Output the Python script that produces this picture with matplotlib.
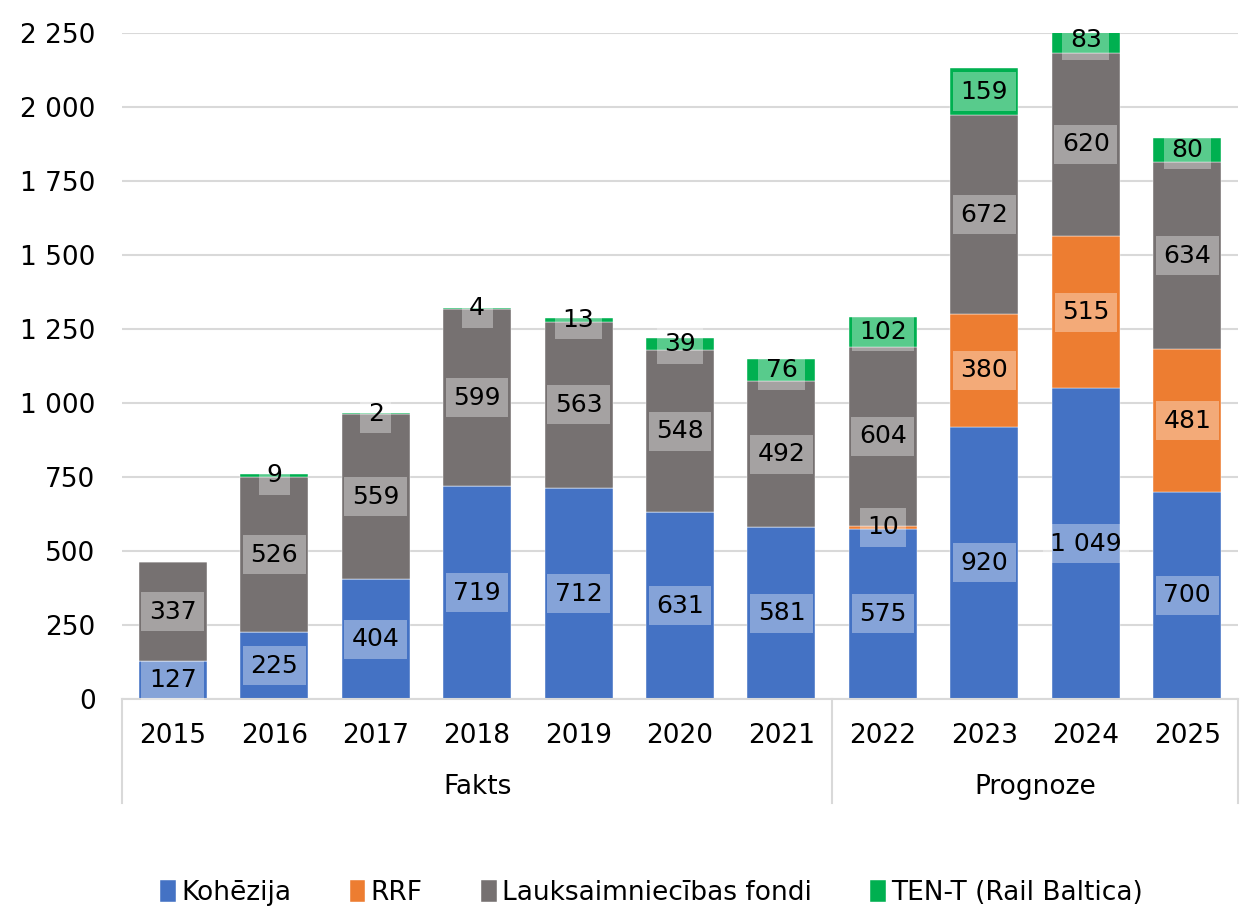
import matplotlib.pyplot as plt
from matplotlib.ticker import FuncFormatter

years = ['2015', '2016', '2017', '2018', '2019', '2020', '2021',
         '2022', '2023', '2024', '2025']
kohezija = [127, 225, 404, 719, 712, 631, 581, 575, 920, 1049, 700]
rrf = [0, 0, 0, 0, 0, 0, 0, 10, 380, 515, 481]
lauks = [337, 526, 559, 599, 563, 548, 492, 604, 672, 620, 634]
tent = [0, 9, 2, 4, 13, 39, 76, 102, 159, 83, 80]

series_names = ['Kohēzija', 'RRF', 'Lauksaimniecības fondi', 'TEN-T (Rail Baltica)']
colors = ['#4472C4', '#ED7D31', '#767171', '#00B050']
groups = [('Fakts', 0, 6), ('Prognoze', 7, 10)]


def fmt_thousands(v, pos=None):
    return '{:,.0f}'.format(v).replace(',', ' ')


fig = plt.figure(figsize=(12.48, 9.08), dpi=100)
ax = fig.add_axes([122 / 1248, 1 - 699 / 908, 1116 / 1248, 666 / 908])

x = list(range(len(years)))
bottom = [0] * len(years)
for name, vals, col in zip(series_names, [kohezija, rrf, lauks, tent], colors):
    ax.bar(x, vals, 0.67, bottom=bottom, color=col, label=name,
           edgecolor='white', linewidth=0.3, zorder=2)
    for i, v in enumerate(vals):
        if v > 0:
            ax.text(i, bottom[i] + v / 2, fmt_thousands(v), ha='center', va='center',
                    fontsize=18, color='black', zorder=4,
                    bbox=dict(boxstyle='square,pad=0.3', fc='white', ec='none', alpha=0.35))
    bottom = [b + v for b, v in zip(bottom, vals)]

ax.set_ylim(0, 2250)
ax.set_xlim(-0.5, len(years) - 0.5)
ax.set_yticks(range(0, 2251, 250))
ax.yaxis.set_major_formatter(FuncFormatter(fmt_thousands))
ax.tick_params(axis='y', length=0, labelsize=19, pad=19)
ax.tick_params(axis='x', length=0, labelbottom=False)
ax.grid(axis='y', color='#D9D9D9', linewidth=1.5, zorder=0)
ax.set_axisbelow(True)
for s in ['left', 'right', 'top']:
    ax.spines[s].set_visible(False)
ax.spines['bottom'].set_color('#D9D9D9')
ax.spines['bottom'].set_linewidth(1.5)

# two-level category axis
trans = ax.get_xaxis_transform()
for i, y in enumerate(years):
    ax.text(i, -37 / 666, y, transform=trans, ha='center', va='center', fontsize=19)
for name, a, b in groups:
    ax.text((a + b) / 2, -88 / 666, name, transform=trans, ha='center', va='center', fontsize=19)
for xs in [-0.5, 6.5, 10.5]:
    ax.plot([xs, xs], [0, -104 / 666], transform=trans, color='#D9D9D9',
            linewidth=1.5, clip_on=False)

fig.legend(loc='center', bbox_to_anchor=(0.522, 1 - 893 / 908), ncol=4, frameon=False,
           fontsize=19, handlelength=0.6, handleheight=0.9, handletextpad=0.2,
           columnspacing=2.2)

plt.savefig('out.png', dpi=100)
